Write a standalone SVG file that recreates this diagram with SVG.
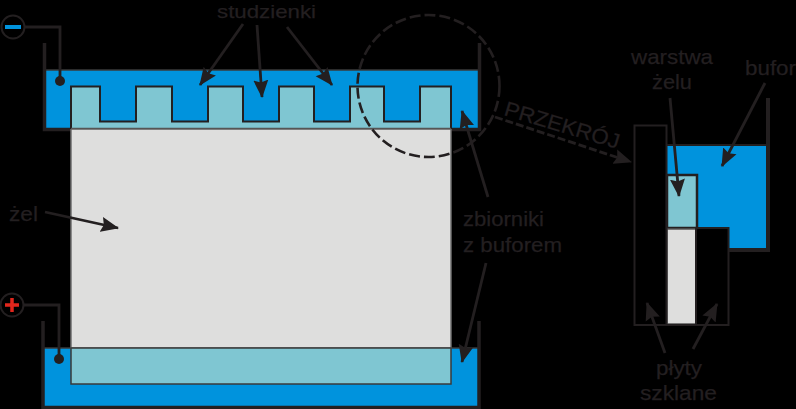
<svg xmlns="http://www.w3.org/2000/svg" width="796" height="409" viewBox="0 0 796 409">
<style>
text{font-family:"Liberation Sans",Arial,sans-serif;font-size:21px;fill:#231f20;stroke:#231f20;stroke-width:.25}
.w{fill:none;stroke:#231f20;stroke-width:3.5}
.n{fill:none;stroke:#231f20;stroke-width:2}
.g{fill:#dededd;stroke:#6f6f6f;stroke-width:1.5}
.a{fill:none;stroke:#231f20;stroke-width:2.8;marker-end:url(#h)}
</style>
<defs>
<marker id="h" markerUnits="userSpaceOnUse" markerWidth="20" markerHeight="16" refX="17" refY="8" orient="auto">
<path d="M0 0.500L18 8L0 15.500L2.500 8Z" fill="#231f20"/>
</marker>
</defs>
<rect width="796" height="409" fill="#000"/>
<g id="top-tank">
<rect x="45" y="70" width="434" height="59" fill="#0093dd"/>
<path d="M45 70H479" fill="none" stroke="#3a3a3a" stroke-width="1.5"/>
<path class="w" d="M44.500 43V129.500H71"/>
<path class="w" d="M479.500 43V129.500H451"/>
</g>
<g id="bottom-tank">
<rect x="44" y="348" width="434" height="59" fill="#0093dd"/>
<path d="M44 348H478" fill="none" stroke="#3a3a3a" stroke-width="1.500"/>
<path class="w" d="M43 321V407.500H479V321"/>
</g>
<g id="gel">
<rect class="g" x="71" y="129" width="380" height="219"/>
<path d="M71 129V86.500H100V121.500H136V86.500H172V121.500H208V86.500H243V121.500H279V86.500H314V121.500H350V86.500H384V121.500H420V86.500H451V129Z" fill="#7fc6d2"/>
<path class="n" d="M71 129V86.500H100V121.500H136V86.500H172V121.500H208V86.500H243V121.500H279V86.500H314V121.500H350V86.500H384V121.500H420V86.500H451V129"/>
<path d="M71 128.500H451" stroke="#555" stroke-width="1.500"/>
<rect x="71" y="348" width="380" height="36" fill="#7fc6d2" stroke="#3a3a3a" stroke-width="1.500"/>
</g>
<g id="minus-electrode">
<circle cx="13" cy="27" r="11.500" fill="none" stroke="#231f20" stroke-width="2"/>
<rect x="5" y="25" width="16" height="4" fill="#0093dd"/>
<path class="n" style="stroke-width:2.800" d="M25 27H60V80"/>
<circle cx="60" cy="81" r="5" fill="#231f20"/>
</g>
<g id="plus-electrode">
<circle cx="12" cy="305" r="11.500" fill="none" stroke="#231f20" stroke-width="2"/>
<path d="M5 305H19M12 298V312" stroke="#e1261c" stroke-width="3.500"/>
<path class="n" style="stroke-width:2.800" d="M24 305H59V358"/>
<circle cx="59" cy="359" r="5" fill="#231f20"/>
</g>
<g id="section">
<path d="M667 145H766V248.500H728V228H697V175H667Z" fill="#0093dd"/>
<path d="M666 145H766" stroke="#231f20" stroke-width="2"/>
<rect x="667" y="175" width="30" height="53" fill="#7fc6d2" stroke="#231f20" stroke-width="2.500"/>
<rect x="667" y="229" width="29" height="95" fill="#dededd" stroke="#555" stroke-width="1.500"/>
<rect class="n" x="634.500" y="125.500" width="32" height="199.500"/>
<path class="n" d="M667 325H728.500V228H696"/>
<path d="M696 228V325" stroke="#231f20" stroke-width="2"/>
<path class="w" style="stroke-width:4" d="M768 98V250H728"/>
</g>
<g id="connectors">
<circle cx="428.500" cy="86" r="71" fill="none" stroke="#231f20" stroke-width="2.600" stroke-dasharray="11 4"/>
<path class="a" stroke-dasharray="8 3" d="M495 117L631 162"/>
<path class="a" d="M243 24L200 85"/>
<path class="a" d="M257 25L262 97"/>
<path class="a" d="M287 27L332 85"/>
<path class="a" d="M488 197L462 111"/>
<path class="a" d="M486 263L462 362"/>
<path class="a" d="M45 212L118 228"/>
<path class="a" d="M670 98L679 196"/>
<path class="a" d="M765 83L722 166"/>
<path class="a" d="M665 353L647 303"/>
<path class="a" d="M693 349L717 304"/>
</g>
<g id="labels">
<text x="217" y="17.500" style="font-size:19px" textLength="99" lengthAdjust="spacingAndGlyphs">studzienki</text>
<text x="9" y="221" textLength="29" lengthAdjust="spacingAndGlyphs">żel</text>
<text x="631" y="64" textLength="82" lengthAdjust="spacingAndGlyphs">warstwa</text>
<text x="652" y="89" textLength="40" lengthAdjust="spacingAndGlyphs">żelu</text>
<text x="745" y="75" textLength="51" lengthAdjust="spacingAndGlyphs">bufor</text>
<text x="463" y="226" textLength="81" lengthAdjust="spacingAndGlyphs">zbiorniki</text>
<text x="463" y="252" textLength="99" lengthAdjust="spacingAndGlyphs">z buforem</text>
<text x="656" y="375" textLength="46" lengthAdjust="spacingAndGlyphs">płyty</text>
<text x="640" y="400" textLength="77" lengthAdjust="spacingAndGlyphs">szklane</text>
<text x="503" y="115" transform="rotate(16.500 503 115)" textLength="119" lengthAdjust="spacingAndGlyphs">PRZEKRÓJ</text>
</g>
</svg>
